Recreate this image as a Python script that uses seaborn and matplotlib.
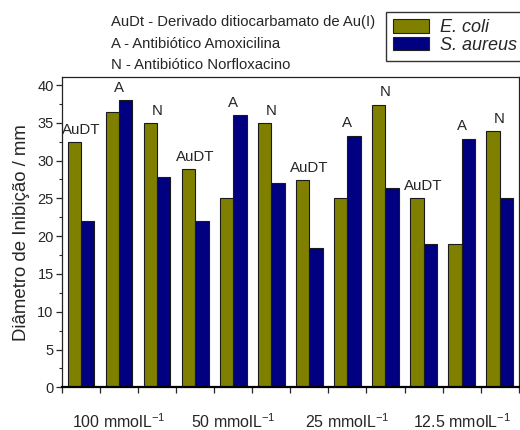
import numpy as np
import pandas as pd
import matplotlib
matplotlib.use('Agg')
import matplotlib.pyplot as plt
import seaborn as sns
from matplotlib.patches import Patch

concentrations = ['100 mmolL$^{-1}$', '50 mmolL$^{-1}$', '25 mmolL$^{-1}$', '12.5 mmolL$^{-1}$']
compounds = ['AuDT', 'A', 'N']
ecoli = [32.4, 36.4, 35.0, 28.9, 25.0, 35.0, 27.4, 25.0, 37.4, 25.0, 18.9, 33.9]
saureus = [22.0, 38.0, 27.8, 22.0, 36.0, 27.0, 18.4, 33.3, 26.4, 18.9, 32.9, 25.0]
notes = ['AuDt - Derivado ditiocarbamato de Au(I)',
         'A - Antibiótico Amoxicilina',
         'N - Antibiótico Norfloxacino']

groups = [f'{c}|{k}' for c in concentrations for k in compounds]
df = pd.DataFrame({'grupo': groups * 2,
                   'valor': ecoli + saureus,
                   'bact': ['E. coli'] * 12 + ['S. aureus'] * 12})

sns.set_style('ticks')
plt.rcParams['font.family'] = ['Liberation Sans', 'DejaVu Sans']
plt.rcParams['mathtext.fontset'] = 'custom'
plt.rcParams['mathtext.rm'] = 'Liberation Sans'
plt.rcParams['mathtext.default'] = 'regular'

fig = plt.figure(figsize=(5.2, 4.3), dpi=100)
ax = fig.add_axes([0.1192, 0.0993, 0.8783, 0.7205])

cores = {'E. coli': '#808000', 'S. aureus': '#000080'}
sns.barplot(data=df, x='grupo', y='valor', hue='bact', palette=cores,
            saturation=1, width=0.7, gap=0, edgecolor='#1a1a1a', linewidth=0.8,
            legend=False, ax=ax)

# labels above each group
for i, g in enumerate(groups):
    top = max(ecoli[i], saureus[i])
    ax.text(i, top + 0.7, g.split('|')[1], ha='center', va='bottom', fontsize=10.8)

ax.set_xlim(-0.5, 11.5)
ax.set_ylim(0, 41)
ax.set_xticks(np.arange(-0.5, 12, 1))
ax.set_xticklabels([])
ax.set_xticks([1, 4, 7, 10], minor=True)
ax.set_xticklabels(concentrations, minor=True, fontsize=11.5)
ax.tick_params(axis='x', which='minor', length=0, pad=18)
ax.tick_params(axis='x', which='major', length=4, width=0.9, direction='out')
ax.set_yticks(range(0, 41, 5))
ax.set_yticks(np.arange(2.5, 40, 5), minor=True)
ax.tick_params(axis='y', which='major', length=4, width=0.9, labelsize=10.5, pad=2)
ax.tick_params(axis='y', which='minor', length=2.5, width=0.8, left=True)
ax.set_xlabel('')
ax.set_ylabel('Diâmetro de Inibição / mm', fontsize=13.4, labelpad=5)
for s in ax.spines.values():
    s.set_visible(True)
    s.set_linewidth(0.9)
    s.set_color('#222222')
ax.spines['bottom'].set_linewidth(1.6)
ax.spines['bottom'].set_color('black')

for j, t in enumerate(notes):
    fig.text(111 / 520, 1 - (22 + 21.5 * j) / 430, t, fontsize=10.7, va='center', ha='left')

handles = [Patch(facecolor=cores[k], edgecolor='#222222', linewidth=0.8) for k in cores]
fig.legend(handles, list(cores), loc='upper left', bbox_to_anchor=(386 / 520, 1 - 12 / 430),
           prop={'style': 'italic', 'size': 13}, frameon=True, fancybox=False,
           edgecolor='#333333', framealpha=1, handlelength=2.0, handleheight=0.75,
           borderpad=0.4, labelspacing=0.05, handletextpad=0.6, borderaxespad=0)

fig.savefig('out.png', dpi=100)
